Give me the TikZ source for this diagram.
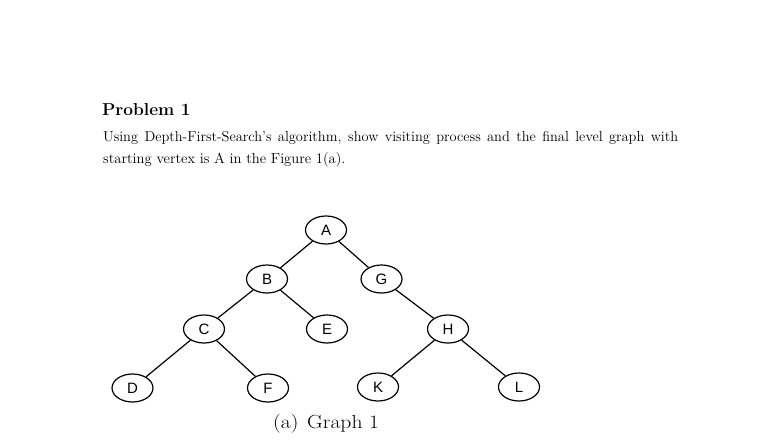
\documentclass[tikz,border=0pt]{standalone}
\usepackage{fontspec}
\newfontfamily\vertexfont{Liberation Sans}
\usetikzlibrary{shapes.geometric}

\tikzset{
  vertex/.style={draw, ellipse, line width=1.2pt, minimum width=41pt,
    minimum height=28pt, inner sep=0pt, font=\vertexfont\fontsize{15}{17}\selectfont},
  tree edge/.style={line width=1.2pt}
}

\begin{document}
\begin{tikzpicture}[x=1pt, y=-1pt]

    \useasboundingbox (0, 0) rectangle (784, 441);

    \node [anchor=base west, inner sep=0pt,
      font=\fontsize{17.28}{20}\selectfont\bfseries]
      (title) at (102, 116) {Problem 1};

    \node [anchor=base west, inner sep=0pt,
      font=\fontsize{14.4}{22}\selectfont]
      (line1) at (103, 142)
      {\makebox[575pt][s]{Using Depth-First-Search's algorithm, show visiting process and the final level graph with}};
    \node [anchor=base west, inner sep=0pt,
      font=\fontsize{14.6}{22}\selectfont]
      (line2) at (103, 163)
      {starting vertex is A in the Figure 1(a).};

    % the tree
    \node [vertex] (A) at (326, 230) {A};
    \node [vertex] (B) at (267, 279) {B};
    \node [vertex] (G) at (381.5, 279) {G};
    \node [vertex] (C) at (204, 329) {C};
    \node [vertex] (E) at (327, 329) {E};
    \node [vertex] (H) at (448, 329) {H};
    \node [vertex] (D) at (132.5, 388) {D};
    \node [vertex] (F) at (268, 388) {F};
    \node [vertex] (K) at (378, 387) {K};
    \node [vertex] (L) at (519, 387) {L};

    \draw [tree edge] (A) -- (B);
    \draw [tree edge] (A) -- (G);
    \draw [tree edge] (B) -- (C);
    \draw [tree edge] (B) -- (E);
    \draw [tree edge] (C) -- (D);
    \draw [tree edge] (C) -- (F);
    \draw [tree edge] (G) -- (H);
    \draw [tree edge] (H) -- (K);
    \draw [tree edge] (H) -- (L);

    \node [anchor=base west, inner sep=0pt,
      font=\fontsize{19}{22}\selectfont]
      (caption) at (273, 428) {\scalebox{1.14}[1]{(a)\hspace{0.4em}Graph 1}};

  \end{tikzpicture}
\end{document}
